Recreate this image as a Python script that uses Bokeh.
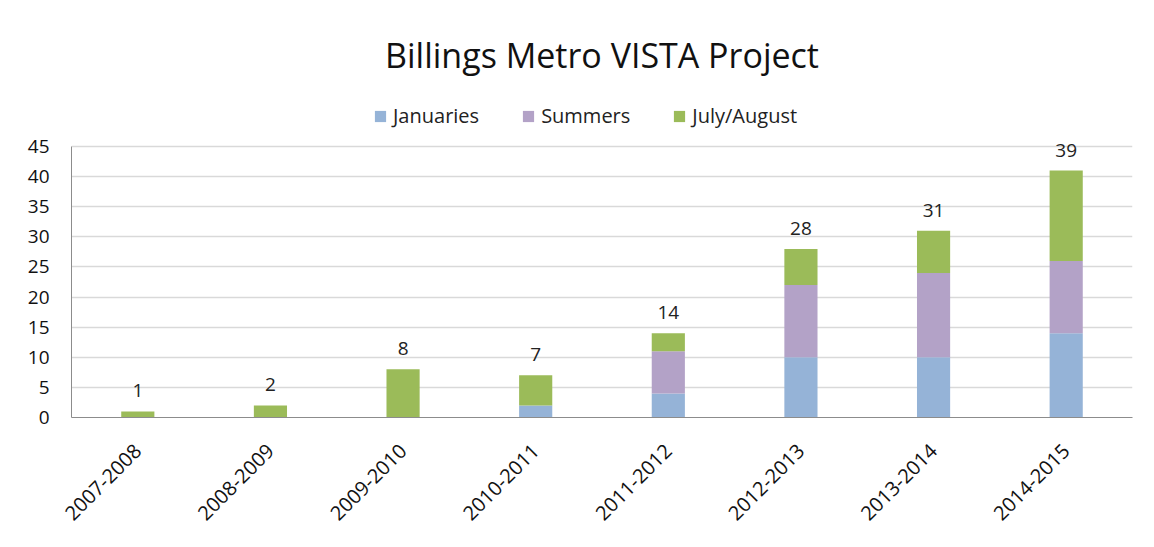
import math
from bokeh.plotting import figure
from bokeh.models import (ColumnDataSource, Legend, LegendItem, LabelSet,
                          FactorRange, FixedTicker, Range1d)
from bokeh.embed import file_html
from bokeh.resources import INLINE
from bokeh.core.properties import value

seasons = ["2007-2008", "2008-2009", "2009-2010", "2010-2011",
           "2011-2012", "2012-2013", "2013-2014", "2014-2015"]
januaries = [0, 0, 0, 2, 4, 10, 10, 14]
summers = [0, 0, 0, 0, 7, 12, 14, 12]
july_august = [1, 2, 8, 5, 3, 6, 7, 15]
total_labels = ["1", "2", "8", "7", "14", "28", "31", "39"]
y_ticks = [0, 5, 10, 15, 20, 25, 30, 35, 40, 45]
y_max = 45

FONT = "Open Sans"
colors = ["#95B3D7", "#B3A2C7", "#9BBB59"]

# layout in pixels (frame extended upward to hold the legend)
frame_top, axis_top, frame_bottom = 90, 146, 417
y_end = y_max * (frame_bottom - frame_top) / (frame_bottom - axis_top)

tops = [a + b + c for a, b, c in zip(januaries, summers, july_august)]
src = ColumnDataSource(dict(season=seasons, Januaries=januaries,
                            Summers=summers, JulyAugust=july_august,
                            top=tops, label=total_labels))

p = figure(x_range=FactorRange(*seasons), y_range=Range1d(0, y_end),
           width=1154, height=547, output_backend="svg",
           toolbar_location=None, min_border_left=71, min_border_right=22,
           min_border_top=frame_top, min_border_bottom=547 - frame_bottom)

rs = p.vbar_stack(["Januaries", "Summers", "JulyAugust"], x="season",
                  width=0.25, color=colors, line_color=None, source=src)

labels = LabelSet(x="season", y="top", text="label", source=src,
                  text_align="center", text_baseline="bottom", y_offset=14,
                  text_font=value(FONT), text_font_size="19px",
                  text_color="#222222")
p.add_layout(labels)

p.title.text = "Billings Metro VISTA Project"
p.title.align = "center"
p.title.text_font = FONT
p.title.text_font_size = "34px"
p.title.text_font_style = "normal"
p.title.text_color = "#111111"
p.title.standoff = 26

legend = Legend(items=[LegendItem(label="Januaries", renderers=[rs[0]]),
                       LegendItem(label="Summers", renderers=[rs[1]]),
                       LegendItem(label="July/August", renderers=[rs[2]])],
                orientation="horizontal", location=(302, 288),
                label_text_font=FONT, label_text_font_size="20px",
                label_text_color="#222222", label_standoff=6,
                glyph_width=14, glyph_height=14, spacing=42,
                border_line_color=None, background_fill_alpha=0,
                margin=0, padding=0)
p.add_layout(legend, "center")

p.outline_line_color = None
p.xgrid.grid_line_color = None
p.ygrid.grid_line_color = "#d9d9d9"
p.ygrid.grid_line_width = 1.5

p.yaxis.ticker = FixedTicker(ticks=y_ticks)
p.yaxis.bounds = (0, y_max)
p.yaxis.minor_tick_line_color = None
p.yaxis.major_tick_line_color = None
p.yaxis.major_tick_out = 0
p.yaxis.major_label_standoff = 22
p.yaxis.axis_line_color = "#8c8c8c"

p.xaxis.major_tick_line_color = None
p.xaxis.major_tick_out = 0
p.xaxis.major_label_standoff = 30
p.xaxis.axis_line_color = "#8c8c8c"
p.xaxis.major_label_orientation = math.pi / 4

for ax in (p.xaxis[0], p.yaxis[0]):
    ax.major_label_text_font = FONT
    ax.major_label_text_color = "#111111"
p.yaxis.major_label_text_font_size = "19px"
p.xaxis.major_label_text_font_size = "20px"

open("out.html", "w").write(file_html(p, INLINE))
